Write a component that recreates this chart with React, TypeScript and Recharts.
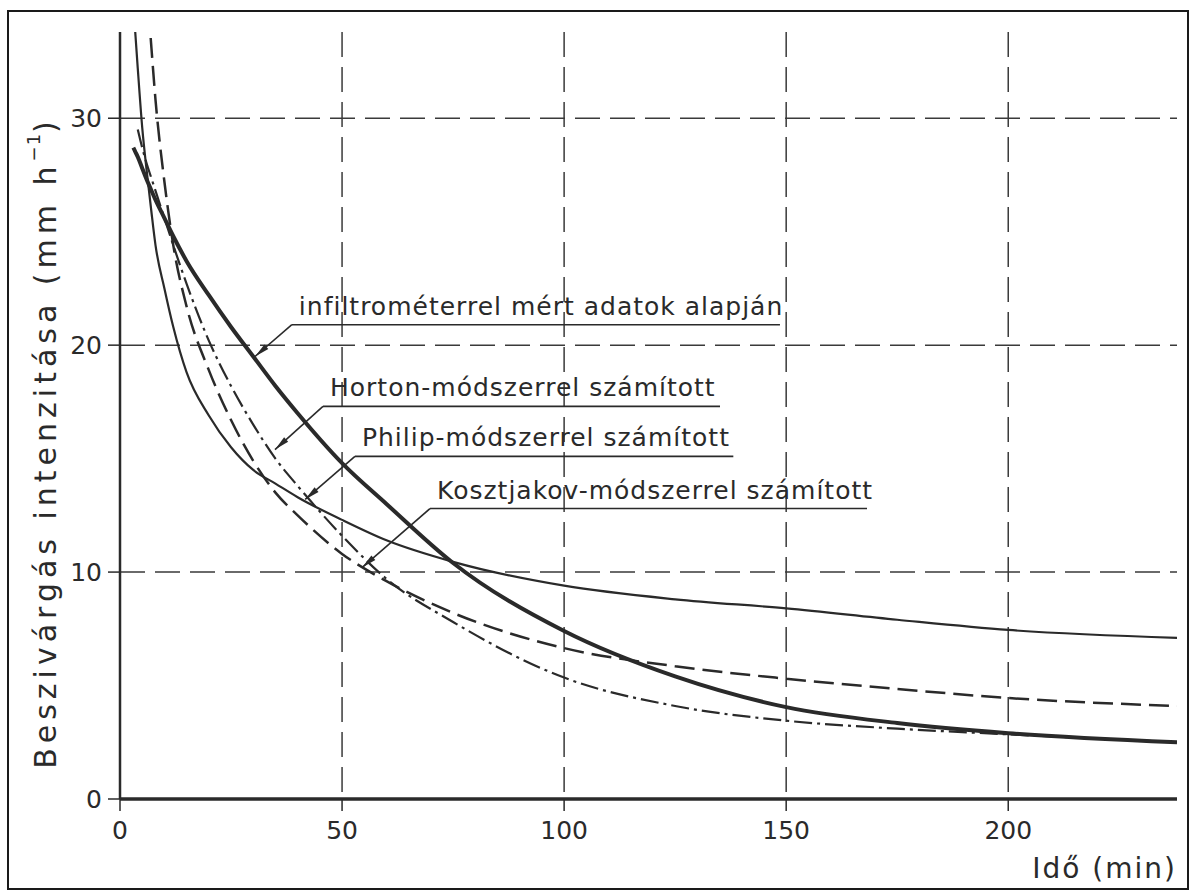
import React from 'react';
import { LineChart, Line, XAxis, YAxis, CartesianGrid, ReferenceLine, Label } from 'recharts';

// time (min) and infiltration rate (mm/h)
const times = [3, 3.5, 4, 5, 6, 7, 8, 10, 12, 15, 20, 25, 30, 35, 40, 50, 60, 75, 100, 125, 150, 175, 200, 238];
const measured = [28.7, 28.5, 28.3, 27.8, 27.3, 26.85, 26.4, 25.6, 24.8, 23.7, 22.2, 20.8, 19.5, 18.2, 17.0, 14.8, 13.0, 10.4, 7.4, 5.4, 4.05, 3.35, 2.9, 2.5];
const horton = [null, null, 29.5, 28.7, 28.0, 27.4, 26.8, 25.6, 24.4, 22.7, 20.2, 18.2, 16.5, 15.0, 13.8, 11.6, 9.7, 7.8, 5.35, 4.1, 3.45, 3.1, 2.85, 2.5];
const philip = [35.0, 33.6, 32.2, 29.6, 27.7, 26.0, 24.4, 22.5, 20.8, 18.8, 16.9, 15.5, 14.5, 13.9, 13.3, 12.3, 11.4, 10.45, 9.4, 8.8, 8.4, 7.9, 7.45, 7.1];
const kosztjakov = [null, null, null, null, 36.0, 33.3, 30.8, 27.2, 24.4, 21.7, 18.9, 16.7, 14.9, 13.5, 12.5, 10.8, 9.6, 8.2, 6.65, 5.85, 5.3, 4.85, 4.45, 4.1];

const xTicks = [0, 50, 100, 150, 200];
const yTicks = [0, 10, 20, 30];
const xGrid = [50, 100, 150, 200];
const yGrid = [10, 20, 30];

const labelTexts = [
  'infiltrométerrel mért adatok alapján',
  'Horton-módszerrel számított',
  'Philip-módszerrel számított',
  'Kosztjakov-módszerrel számított',
];
// leader lines in data units: arrow tip, knee, end of the underline
const leaders = [
  { tip: [30.4, 19.5], knee: [38.7, 20.9], end: 148.6 },
  { tip: [34.9, 15.4], knee: [45.7, 17.3], end: 135.1 },
  { tip: [41.7, 13.2], knee: [52.9, 15.1], end: 138.1 },
  { tip: [54.5, 10.2], knee: [69.8, 12.8], end: 168.2 },
];

const data = times.map((t, i) => ({
  t,
  measured: measured[i],
  horton: horton[i],
  philip: philip[i],
  kosztjakov: kosztjakov[i],
}));

const INK = '#2a2a2a';
const FONT = '"DejaVu Sans", sans-serif';

const arrowShape = (props: any) => {
  const { x1, y1, x2, y2 } = props;
  const dx = x2 - x1;
  const dy = y2 - y1;
  const len = Math.sqrt(dx * dx + dy * dy) || 1;
  const ux = dx / len;
  const uy = dy / len;
  const bx = x2 - ux * 15;
  const by = y2 - uy * 15;
  const w = 3;
  return (
    <g>
      <line x1={x1} y1={y1} x2={x2} y2={y2} stroke={INK} strokeWidth={1.6} />
      <polygon
        points={`${x2},${y2} ${bx - uy * w},${by + ux * w} ${bx + uy * w},${by - ux * w}`}
        fill={INK}
      />
    </g>
  );
};

const underlineShape = (text: string) => (props: any) => {
  const { x1, y1, x2, y2 } = props;
  return (
    <g>
      <line x1={x1} y1={y1} x2={x2} y2={y2} stroke={INK} strokeWidth={1.6} />
      <text x={Math.min(x1, x2) + 7} y={y1 - 10} fontFamily={FONT} fontSize={25} letterSpacing={1} fill={INK}>
        {text}
      </text>
    </g>
  );
};

const YTitle = (props: any) => {
  const vb = props.viewBox;
  const cx = vb.x - 15;
  const cy = vb.y + vb.height / 2 + 27;
  return (
    <text
      x={cx}
      y={cy}
      transform={`rotate(-90, ${cx}, ${cy})`}
      textAnchor="middle"
      dominantBaseline="central"
      fontFamily={FONT}
      fontSize={30}
      letterSpacing={5}
      fill={INK}
    >
      <tspan>Beszivárgás intenzitása (mm h</tspan>
      <tspan dy={-12} fontSize={18} letterSpacing={1}>−1</tspan>
      <tspan dy={12}>)</tspan>
    </text>
  );
};

const XTitle = (props: any) => {
  const vb = props.viewBox;
  return (
    <text
      x={vb.x + vb.width}
      y={vb.y + 79}
      textAnchor="end"
      fontFamily={FONT}
      fontSize={28}
      letterSpacing={2}
      fill={INK}
    >
      Idő (min)
    </text>
  );
};

export default function App() {
  return (
    <div style={{ position: 'absolute', left: 0, top: 0, width: 1193, height: 890, background: '#fff' }}>
      <div
        style={{
          position: 'absolute',
          left: 7,
          top: 10,
          width: 1178,
          height: 876,
          border: '2px solid #1a1a1a',
        }}
      />
      <div style={{ position: 'absolute', left: 0, top: 0 }}>
        <LineChart width={1193} height={890} data={data} margin={{ top: 32, right: 16, bottom: 51, left: 60 }}>
          <CartesianGrid
            stroke="#3a3a3a"
            strokeWidth={1.5}
            strokeDasharray="25 10"
            horizontalValues={yGrid}
            verticalValues={xGrid}
          />
          <XAxis
            dataKey="t"
            type="number"
            domain={[0, 238]}
            ticks={xTicks}
            allowDataOverflow
            height={40}
            stroke={INK}
            axisLine={{ stroke: INK, strokeWidth: 3.5 }}
            tickLine={{ stroke: INK, strokeWidth: 1.5 }}
            tickSize={12}
            tickMargin={10}
            tick={{ fill: INK, fontSize: 25, fontFamily: FONT }}
          >
            <Label content={XTitle} />
          </XAxis>
          <YAxis
            type="number"
            domain={[0, 33.8]}
            ticks={yTicks}
            allowDataOverflow
            width={60}
            stroke={INK}
            axisLine={{ stroke: INK, strokeWidth: 2.5 }}
            tickLine={{ stroke: INK, strokeWidth: 1.5 }}
            tickSize={12}
            tickMargin={6}
            tick={{ fill: INK, fontSize: 25, fontFamily: FONT }}
          >
            <Label content={YTitle} />
          </YAxis>

          <Line dataKey="philip" type="monotone" stroke={INK} strokeWidth={2.2} dot={false} isAnimationActive={false} />
          <Line
            dataKey="kosztjakov"
            type="monotone"
            stroke={INK}
            strokeWidth={2.5}
            strokeDasharray="20 8"
            dot={false}
            isAnimationActive={false}
          />
          <Line
            dataKey="horton"
            type="monotone"
            stroke={INK}
            strokeWidth={2.2}
            strokeDasharray="18 5 3 5"
            dot={false}
            isAnimationActive={false}
          />
          <Line dataKey="measured" type="monotone" stroke={INK} strokeWidth={4} dot={false} isAnimationActive={false} />

          {leaders.map((l, i) => (
            <ReferenceLine
              key={`arrow-${i}`}
              segment={[
                { x: l.knee[0], y: l.knee[1] },
                { x: l.tip[0], y: l.tip[1] },
              ]}
              shape={arrowShape}
            />
          ))}
          {leaders.map((l, i) => (
            <ReferenceLine
              key={`under-${i}`}
              segment={[
                { x: l.knee[0], y: l.knee[1] },
                { x: l.end, y: l.knee[1] },
              ]}
              shape={underlineShape(labelTexts[i])}
            />
          ))}
        </LineChart>
      </div>
    </div>
  );
}
